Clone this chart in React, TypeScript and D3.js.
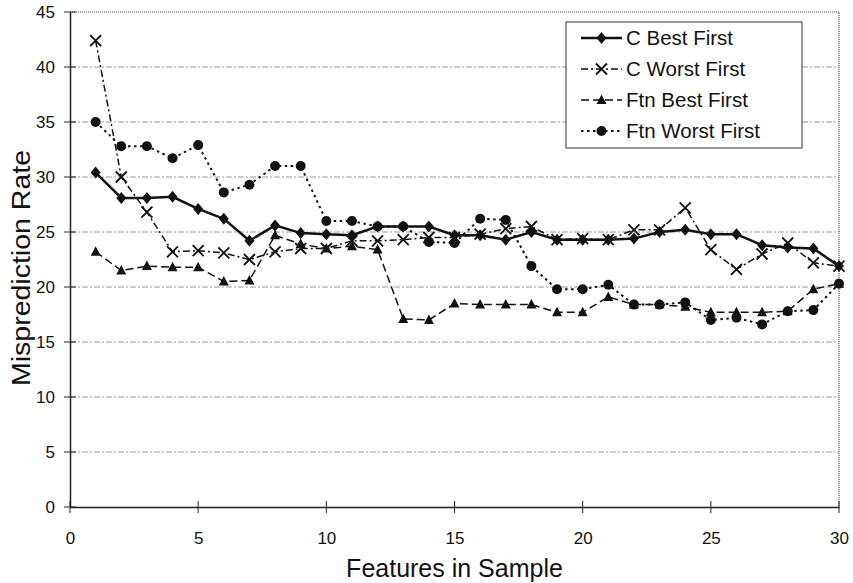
import React, { useEffect, useRef } from 'react';
import * as d3 from 'd3';

// features in sample (x)
const features = d3.range(1, 31);

const cBestFirst = [30.4, 28.1, 28.1, 28.2, 27.1, 26.2, 24.2, 25.6, 24.9, 24.8,
  24.7, 25.5, 25.5, 25.5, 24.7, 24.7, 24.3, 25.0, 24.3, 24.3,
  24.3, 24.4, 25.0, 25.2, 24.8, 24.8, 23.8, 23.6, 23.5, 21.9];
const cWorstFirst = [42.4, 30.0, 26.8, 23.2, 23.3, 23.1, 22.5, 23.2, 23.5, 23.5,
  24.2, 24.2, 24.3, 24.5, 24.5, 24.8, 25.3, 25.5, 24.3, 24.4,
  24.3, 25.2, 25.2, 27.2, 23.4, 21.6, 23.0, 24.0, 22.2, 21.9];
const ftnBestFirst = [23.2, 21.5, 21.9, 21.8, 21.8, 20.5, 20.6, 24.7, 23.9, 23.5,
  23.7, 23.4, 17.1, 17.0, 18.5, 18.4, 18.4, 18.4, 17.7, 17.7,
  19.1, 18.4, 18.4, 18.2, 17.7, 17.7, 17.7, 17.8, 19.8, 20.3];
const ftnWorstFirst = [35.0, 32.8, 32.8, 31.7, 32.9, 28.6, 29.3, 31.0, 31.0, 26.0,
  26.0, 25.5, 25.5, 24.1, 24.0, 26.2, 26.1, 21.9, 19.8, 19.8,
  20.2, 18.4, 18.4, 18.6, 17.0, 17.2, 16.6, 17.8, 17.9, 20.3];

const xTicks = [0, 5, 10, 15, 20, 25, 30];
const yTicks = [0, 5, 10, 15, 20, 25, 30, 35, 40, 45];

const seriesNames = ['C Best First', 'C Worst First', 'Ftn Best First', 'Ftn Worst First'];

const FONT = 'Arial, "Liberation Sans", Helvetica, sans-serif';

export default function App() {
  const ref = useRef<SVGSVGElement>(null);

  useEffect(() => {
    const W = 853, H = 583;
    const m = { left: 70, right: 14, top: 12, bottom: 76 };
    const svg = d3.select(ref.current);
    svg.selectAll('*').remove();

    const x = d3.scaleLinear().domain([0, 30]).range([m.left, W - m.right]);
    const y = d3.scaleLinear().domain([0, 45]).range([H - m.bottom, m.top]);

    const g = svg.append('g');

    // gridlines
    g.selectAll('.grid').data(yTicks.filter(t => t > 0 && t < 45)).enter()
      .append('line')
      .attr('x1', x(0)).attr('x2', x(30))
      .attr('y1', d => y(d)).attr('y2', d => y(d))
      .attr('stroke', '#9a9a9a').attr('stroke-width', 1)
      .attr('stroke-dasharray', '6,2,2,2');

    // frame (top and right dotted)
    g.append('path')
      .attr('d', `M${x(0)},${y(45)}H${x(30)}V${y(0)}`)
      .attr('fill', 'none').attr('stroke', '#444').attr('stroke-width', 1.2)
      .attr('stroke-dasharray', '1,1');

    // axes
    const yAxis = g.append('g').attr('transform', `translate(${x(0)},0)`)
      .call(d3.axisLeft(y).tickValues(yTicks).tickSize(0).tickPadding(15));
    yAxis.select('.domain').attr('stroke', '#222').attr('stroke-width', 1.5);
    yAxis.selectAll('text').attr('font-family', FONT).attr('font-size', 17).attr('fill', '#111');
    g.selectAll('.ytick').data(yTicks).enter().append('line')
      .attr('x1', x(0) - 6).attr('x2', x(0) + 6)
      .attr('y1', d => y(d)).attr('y2', d => y(d))
      .attr('stroke', '#222').attr('stroke-width', 1);

    const xAxis = g.append('g').attr('transform', `translate(0,${y(0)})`)
      .call(d3.axisBottom(x).tickValues(xTicks).tickSize(0).tickPadding(25));
    xAxis.select('.domain').attr('stroke', '#222').attr('stroke-width', 1.5);
    xAxis.selectAll('text').attr('font-family', FONT).attr('font-size', 17).attr('fill', '#111');
    g.selectAll('.xtick').data(xTicks).enter().append('line')
      .attr('x1', d => x(d)).attr('x2', d => x(d))
      .attr('y1', y(0) - 6).attr('y2', y(0) + 6)
      .attr('stroke', '#222').attr('stroke-width', 1);

    // axis titles
    svg.append('text')
      .attr('x', (x(0) + x(30)) / 2).attr('y', 577)
      .attr('text-anchor', 'middle').attr('font-family', FONT).attr('font-size', 25)
      .attr('fill', '#111').text('Features in Sample');
    svg.append('text')
      .attr('transform', `translate(30,268) rotate(-90)`)
      .attr('text-anchor', 'middle').attr('font-family', FONT).attr('font-size', 25)
      .attr('textLength', 236).attr('lengthAdjust', 'spacingAndGlyphs')
      .attr('fill', '#111').text('Misprediction Rate');

    const allSeries = [cBestFirst, cWorstFirst, ftnBestFirst, ftnWorstFirst];
    const styles = [
      { dash: null, width: 2.5, marker: 'diamond' },
      { dash: '7,3,2,3', width: 1.5, marker: 'x' },
      { dash: '8,4', width: 1.5, marker: 'triangle' },
      { dash: '2.5,3.5', width: 2, marker: 'circle' },
    ];

    const line = d3.line<number>().x((_, i) => x(features[i])).y(d => y(d));

    const drawMarker = (sel: any, kind: string, cx: number, cy: number) => {
      if (kind === 'diamond') {
        sel.append('path')
          .attr('d', `M${cx},${cy - 6}L${cx + 5},${cy}L${cx},${cy + 6}L${cx - 5},${cy}Z`)
          .attr('fill', '#111');
      } else if (kind === 'x') {
        sel.append('path')
          .attr('d', `M${cx - 5.5},${cy - 5.5}L${cx + 5.5},${cy + 5.5}M${cx - 5.5},${cy + 5.5}L${cx + 5.5},${cy - 5.5}`)
          .attr('stroke', '#111').attr('stroke-width', 1.8).attr('fill', 'none');
      } else if (kind === 'triangle') {
        sel.append('path')
          .attr('d', `M${cx},${cy - 5.5}L${cx + 5},${cy + 4}L${cx - 5},${cy + 4}Z`)
          .attr('fill', '#111');
      } else {
        sel.append('circle').attr('cx', cx).attr('cy', cy).attr('r', 5).attr('fill', '#111');
      }
    };

    allSeries.forEach((data, si) => {
      const st = styles[si];
      const p = g.append('path').datum(data)
        .attr('d', line)
        .attr('fill', 'none').attr('stroke', '#111').attr('stroke-width', st.width);
      if (st.dash) p.attr('stroke-dasharray', st.dash);
      const mg = g.append('g');
      data.forEach((v, i) => drawMarker(mg, st.marker, x(features[i]), y(v)));
    });

    // legend
    const lg = svg.append('g').attr('transform', 'translate(566,22)');
    lg.append('rect').attr('width', 236).attr('height', 126)
      .attr('fill', '#fff').attr('stroke', '#333').attr('stroke-width', 1);
    seriesNames.forEach((name, i) => {
      const st = styles[i];
      const ly = 16 + i * 31;
      const l = lg.append('line').attr('x1', 15).attr('x2', 56).attr('y1', ly).attr('y2', ly)
        .attr('stroke', '#111').attr('stroke-width', st.width);
      if (st.dash) l.attr('stroke-dasharray', st.dash);
      drawMarker(lg, st.marker, 35.5, ly);
      lg.append('text').attr('x', 60).attr('y', ly + 7)
        .attr('font-family', FONT).attr('font-size', 20.5).attr('fill', '#111').text(name);
    });
  }, []);

  return (
    <svg ref={ref} width={853} height={583}
      style={{ position: 'absolute', left: 0, top: 0, background: '#fff' }} />
  );
}
